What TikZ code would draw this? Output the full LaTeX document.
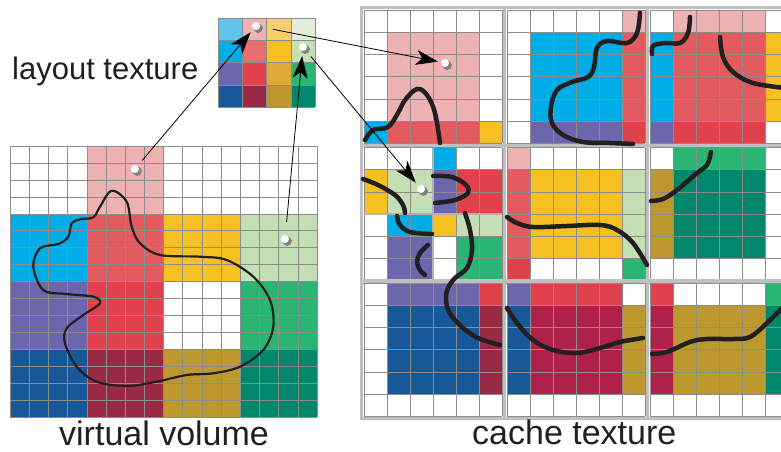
\documentclass[tikz,border=0pt]{standalone}
\usepackage{fontspec}
\setmainfont{Liberation Sans}
\usetikzlibrary{arrows.meta,shadows}

% brick colours
\definecolor{cW}{HTML}{FFFFFF}
\definecolor{cPk}{HTML}{EFB2B2}
\definecolor{cRa}{HTML}{E35B5E}
\definecolor{cRb}{HTML}{E1414A}
\definecolor{cCy}{HTML}{00ADE6}
\definecolor{cYe}{HTML}{F6C022}
\definecolor{cLg}{HTML}{C4DFB4}
\definecolor{cPu}{HTML}{6B66AD}
\definecolor{cGr}{HTML}{2BB572}
\definecolor{cDb}{HTML}{175899}
\definecolor{cDr}{HTML}{9A2944}
\definecolor{cCr}{HTML}{AE2249}
\definecolor{cOl}{HTML}{BD982E}
\definecolor{cTe}{HTML}{00876C}
% lighter entries of the layout texture
\definecolor{lCy}{HTML}{5EC5EE}
\definecolor{lYe}{HTML}{F9CF6C}
\definecolor{lLg}{HTML}{E2EEDA}
\definecolor{lRa}{HTML}{E86E70}
\definecolor{lOl}{HTML}{DEAA35}
\definecolor{ink}{HTML}{231F20}

\tikzset{
  gridline/.style={draw=black!45, line width=0.5pt},
  cframe/.style={draw=black!25, line width=3pt},
  subframe/.style={draw=black!30, line width=2.5pt},
  blob/.style={draw=ink, line width=2.2pt},
  stroke/.style={draw=ink, line width=4.5pt, line cap=round},
  arr/.style={draw=black, line width=0.8pt,
    -{Stealth[length=22pt, width=15pt, inset=6pt]}},
  dotn/.style={circle, fill=white, inner sep=0pt, minimum size=8pt,
    circular drop shadow={shadow xshift=1.6pt, shadow yshift=-1.6pt, shadow scale=1.25}},
  lbl/.style={anchor=base west, inner sep=0pt, text=ink},
}

% #1,#2 top-left corner, #3,#4 cell size, #5 cells per side, #6 rows of colours
\newcommand\cellblock[6]{%
  \foreach \rw [count=\r from 0] in {#6} {
    \foreach \cc [count=\k from 0] in \rw
      \fill[\cc] ({#1+\k*#3},{#2+\r*#4}) rectangle ++(#3,#4);
  }
  \foreach \i in {0,...,#5} {
    \draw[gridline] ({#1+\i*#3},#2) -- ++(0,{#5*#4});
    \draw[gridline] (#1,{#2+\i*#4}) -- ++({#5*#3},0);
  }
}
% framed 6x6 cache brick
\newcommand\cbrick[3]{%
  \cellblock{#1}{#2}{23}{22.2}{6}{#3}
  \draw[cframe] ({#1-2.5},{#2-2.5}) rectangle ({#1+138+2.5},{#2+133.2+2.5});
}

\begin{document}
\begin{tikzpicture}[x=1pt, y=-1pt]
\clip (0,0) rectangle (781,452);
\fill[white] (0,0) rectangle (781,452);

% ---------- virtual volume ----------
\cellblock{10}{146}{76.75}{67.75}{4}{
  {cW,cPk,cW,cW},
  {cCy,cRa,cYe,cLg},
  {cPu,cRb,cW,cGr},
  {cDb,cDr,cOl,cTe}}
\foreach \i in {0,...,16} {
  \draw[gridline] ({10+\i*19.1875},146) -- ++(0,271);
  \draw[gridline] (10,{146+\i*16.9375}) -- ++(307,0);
}
\draw[blob] plot[smooth cycle, tension=0.55] coordinates {
  (111.7,190.7) (126.7,201.7) (131.7,226.7) (140,243.3) (160,255)
  (200,256.7) (226.7,260) (253.3,276.7) (270,300) (273.3,326.7)
  (263.3,350) (240,366.7) (213.3,373.3) (186.7,375) (156.7,381.7)
  (126.7,386) (96.7,381.7) (76.7,366.7) (65,343.3) (66.7,328.3)
  (83.3,315) (100,303.3) (93.3,296.7) (66.7,294) (43.3,290)
  (33.3,266.7) (40,248.3) (58.3,244) (68.3,236.7) (71.7,223.3)
  (80,219.3) (93.3,217.3) (100,206.7)};

% ---------- layout texture ----------
\cellblock{218}{18}{24.25}{22.25}{4}{
  {lCy,cPk,lYe,lLg},
  {cCy,lRa,cYe,cLg},
  {cPu,cRb,lOl,cGr},
  {cDb,cDr,cOl,cTe}}

% ---------- cache texture ----------
\cbrick{364}{10}{
  {cW,cW,cW,cW,cW,cW},
  {cW,cPk,cPk,cPk,cPk,cW},
  {cW,cPk,cPk,cPk,cPk,cW},
  {cW,cPk,cPk,cPk,cPk,cW},
  {cW,cPk,cPk,cPk,cPk,cW},
  {cCy,cRa,cRa,cRa,cRa,cYe}}
\cbrick{507}{10}{
  {cW,cW,cW,cW,cW,cPk},
  {cW,cCy,cCy,cCy,cCy,cRa},
  {cW,cCy,cCy,cCy,cCy,cRa},
  {cW,cCy,cCy,cCy,cCy,cRa},
  {cW,cCy,cCy,cCy,cCy,cRa},
  {cW,cPu,cPu,cPu,cPu,cRb}}
\cbrick{650}{10}{
  {cW,cPk,cPk,cPk,cPk,cW},
  {cCy,cRa,cRa,cRa,cRa,cYe},
  {cCy,cRa,cRa,cRa,cRa,cYe},
  {cCy,cRa,cRa,cRa,cRa,cYe},
  {cCy,cRa,cRa,cRa,cRa,cYe},
  {cPu,cRb,cRb,cRb,cRb,cW}}
\cbrick{364}{147.5}{
  {cW,cW,cW,cCy,cW,cW},
  {cYe,cLg,cLg,cPu,cRb,cRb},
  {cYe,cLg,cLg,cPu,cRb,cRb},
  {cW,cCy,cCy,cYe,cLg,cLg},
  {cW,cPu,cPu,cW,cGr,cGr},
  {cW,cPu,cPu,cW,cGr,cGr}}
% quarter-size bricks inside the middle-left slot
\draw[subframe] (433,147.5) -- ++(0,133.2);
\draw[subframe] (364,214.1) -- ++(138,0);
\cbrick{507}{147.5}{
  {cPk,cW,cW,cW,cW,cW},
  {cRa,cYe,cYe,cYe,cYe,cLg},
  {cRa,cYe,cYe,cYe,cYe,cLg},
  {cRa,cYe,cYe,cYe,cYe,cLg},
  {cRa,cYe,cYe,cYe,cYe,cLg},
  {cRb,cW,cW,cW,cW,cGr}}
\cbrick{650}{147.5}{
  {cW,cGr,cGr,cGr,cGr,cW},
  {cOl,cTe,cTe,cTe,cTe,cW},
  {cOl,cTe,cTe,cTe,cTe,cW},
  {cOl,cTe,cTe,cTe,cTe,cW},
  {cOl,cTe,cTe,cTe,cTe,cW},
  {cW,cW,cW,cW,cW,cW}}
\cbrick{364}{283}{
  {cW,cPu,cPu,cPu,cPu,cRb},
  {cW,cDb,cDb,cDb,cDb,cDr},
  {cW,cDb,cDb,cDb,cDb,cDr},
  {cW,cDb,cDb,cDb,cDb,cDr},
  {cW,cDb,cDb,cDb,cDb,cDr},
  {cW,cW,cW,cW,cW,cW}}
\cbrick{507}{283}{
  {cPu,cRb,cRb,cRb,cRb,cW},
  {cDb,cCr,cCr,cCr,cCr,cOl},
  {cDb,cCr,cCr,cCr,cCr,cOl},
  {cDb,cCr,cCr,cCr,cCr,cOl},
  {cDb,cCr,cCr,cCr,cCr,cOl},
  {cW,cW,cW,cW,cW,cW}}
\cbrick{650}{283}{
  {cRb,cW,cW,cW,cW,cGr},
  {cCr,cOl,cOl,cOl,cOl,cTe},
  {cCr,cOl,cOl,cOl,cOl,cTe},
  {cCr,cOl,cOl,cOl,cOl,cTe},
  {cCr,cOl,cOl,cOl,cOl,cTe},
  {cW,cW,cW,cW,cW,cW}}

% surface pieces stored in the cache bricks
\draw[stroke] plot[smooth, tension=0.6] coordinates {(365,140) (373,130) (388,127) (398,113) (405,100) (417,89) (427,95) (435,113) (440,143)};
\draw[stroke] plot[smooth, tension=0.6] coordinates {(640,12.7) (637,33) (627,43) (607,41) (597,48) (594,67) (588,77) (572,82) (557,90) (551,107) (552,123) (563,135) (583,142) (610,143) (633,144)};
\draw[stroke] plot[smooth, tension=0.6] coordinates {(690,17) (688,33) (680,43) (665,43) (653,46) (652,54)};
\draw[stroke] plot[smooth, tension=0.6] coordinates {(720,37) (723,57) (733,72) (753,83) (785,88)};
\draw[stroke] plot[smooth, tension=0.6] coordinates {(363,179) (378,185) (395,195) (403,205) (405,213)};
\draw[stroke] plot[smooth, tension=0.6] coordinates {(397,216) (400,225) (410,232) (432,234)};
\draw[stroke] plot[smooth, tension=0.6] coordinates {(433,176) (452,177) (466,185) (468,193) (455,200) (435,203)};
\draw[stroke] plot[smooth, tension=0.6] coordinates {(428,245) (420,253) (417,262) (420,270) (425,275)};
\draw[stroke] plot[smooth, tension=0.6] coordinates {(465,213) (470,230) (472,250) (467,268) (455,278) (448,288) (446,298) (449,312) (462,327) (478,338) (500,345)};
\draw[stroke] plot[smooth, tension=0.6] coordinates {(507,217) (517,223) (533,227) (567,226) (600,225) (617,230) (633,243) (647,265)};
\draw[stroke] plot[smooth, tension=0.6] coordinates {(651,201) (663,199) (677,190) (697,173) (707,165) (711,152)};
\draw[stroke] plot[smooth, tension=0.6] coordinates {(507,308) (517,323) (533,340) (553,350) (577,353) (600,348) (620,342) (643,338)};
\draw[stroke] plot[smooth, tension=0.6] coordinates {(652,354) (667,352) (690,342) (707,339) (733,339) (750,337) (767,323) (785,305)};

% sample points
\node[dotn] (vp) at (135,169) {};
\node[dotn] (vg) at (285,239) {};
\node[dotn] (lp) at (256,26) {};
\node[dotn] (lg) at (303,47) {};
\node[dotn] (c1) at (445,63) {};
\node[dotn] (c2) at (421,189) {};

% lookups: virtual -> layout -> cache
\draw[arr, shorten <=7pt, shorten >=4pt] (vp) -- (lp);
\draw[arr, shorten <=13pt, shorten >=5pt] (vg) -- (lg);
\draw[arr, shorten <=13pt, shorten >=3pt] (lp) -- (c1);
\draw[arr, shorten <=8pt, shorten >=4pt] (lg) -- (c2);

% captions
\node[lbl, font=\fontsize{31}{36}\selectfont] (lt) at (12,79) {layout texture};
\node[lbl, font=\fontsize{34}{40}\selectfont] (vv) at (59,445) {virtual volume};
\node[lbl, font=\fontsize{34}{40}\selectfont] (ct) at (472,444) {cache texture};
\end{tikzpicture}
\end{document}
